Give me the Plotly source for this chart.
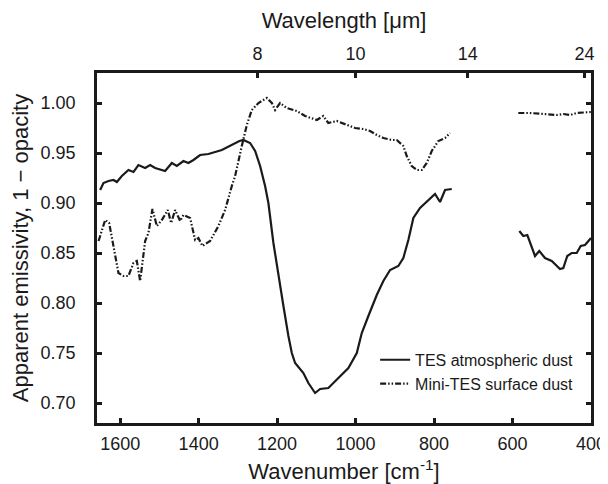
import plotly.graph_objects as go

# TES atmospheric dust (solid) - wavenumber [cm-1], emissivity
tes_wn_a = [1651, 1642.5, 1629.8, 1617, 1608.4, 1595.7, 1578.9, 1566, 1553.4, 1536.3,
            1523.6, 1510.8, 1485.4, 1468.3, 1455.6, 1438.7, 1426, 1413.2, 1396.2, 1375,
            1340.9, 1315.4, 1296, 1286, 1268.8, 1256, 1243.3, 1230.6, 1222.2, 1209.4,
            1196.7, 1183.9, 1171.2, 1162.5, 1154.1, 1133, 1120.3, 1103.2, 1090.4, 1069.3,
            1043.8, 1018.3, 996.9, 984.2, 967.4, 946, 929.2, 912.1, 891, 878.3,
            865.5, 852.7, 835.7, 814.5, 797.5, 784.7, 772, 754.9]
tes_em_a = [0.913, 0.920, 0.922, 0.923, 0.921, 0.927, 0.933, 0.931, 0.938, 0.935,
            0.938, 0.935, 0.932, 0.940, 0.937, 0.942, 0.940, 0.943, 0.948, 0.949,
            0.953, 0.958, 0.962, 0.963, 0.960, 0.952, 0.937, 0.917, 0.900, 0.860,
            0.827, 0.797, 0.767, 0.750, 0.740, 0.730, 0.720, 0.710, 0.714, 0.715,
            0.725, 0.735, 0.750, 0.770, 0.787, 0.808, 0.822, 0.833, 0.837, 0.845,
            0.863, 0.885, 0.895, 0.903, 0.909, 0.901, 0.913, 0.914]
tes_wn_b = [582.7, 572.5, 562.3, 542.7, 531.8, 517.2, 500.1, 479, 470.6, 460.4,
            449.2, 436.4, 426.2, 415.3, 404.3, 400]
tes_em_b = [0.872, 0.867, 0.868, 0.847, 0.852, 0.845, 0.842, 0.834, 0.835, 0.847,
            0.850, 0.850, 0.857, 0.858, 0.863, 0.865]

# Mini-TES surface dust (dash-dot-dot)
mini_wn_a = [1655, 1638.2, 1628, 1617.1, 1604.3, 1591.6, 1578.9, 1566.1, 1557.5, 1549,
             1536.3, 1527.9, 1517.7, 1506.5, 1493.8, 1478.5, 1470.1, 1459.9, 1447.1, 1438.7,
             1421.7, 1408.9, 1400.5, 1390.3, 1370.7, 1349.6, 1332.5, 1315.4, 1307, 1290,
             1277.2, 1264.5, 1247.6, 1226.2, 1213.5, 1205.1, 1192.4, 1175.3, 1149.8, 1128.7,
             1098.9, 1082.2, 1069.4, 1048, 1018.5, 1001.3, 980.1, 963.1, 946, 929.2,
             907.8, 895.1, 878.3, 869.6, 856.9, 844.1, 831.4, 818.6, 805.9, 789.1,
             772, 759.2]
mini_em_a = [0.862, 0.883, 0.880, 0.857, 0.830, 0.827, 0.827, 0.840, 0.842, 0.822,
             0.862, 0.870, 0.894, 0.877, 0.883, 0.893, 0.880, 0.893, 0.882, 0.888,
             0.885, 0.863, 0.865, 0.857, 0.862, 0.877, 0.893, 0.917, 0.927, 0.957,
             0.978, 0.993, 1.000, 1.005, 1.000, 0.993, 1.000, 0.995, 0.992, 0.987,
             0.983, 0.987, 0.980, 0.982, 0.978, 0.975, 0.974, 0.972, 0.968, 0.965,
             0.963, 0.963, 0.957, 0.947, 0.937, 0.933, 0.933, 0.940, 0.952, 0.962,
             0.965, 0.970]
mini_wn_b = [585.2, 555.4, 521.5, 487.4, 470.6, 453.5, 436.4, 411, 400]
mini_em_b = [0.990, 0.990, 0.989, 0.988, 0.989, 0.988, 0.990, 0.991, 0.991]

wn_ticks = [1600, 1400, 1200, 1000, 800, 600, 400]
y_ticks = [0.70, 0.75, 0.80, 0.85, 0.90, 0.95, 1.00]
wl_labels = [8, 10, 14, 24]
wl_ticks = [1e4 / w for w in wl_labels]

x_range = [1659, 400]
y_range = [0.68, 1.03]

FONT = "Liberation Sans, Arial, sans-serif"
INK = "#1a1a1a"

fig = go.Figure()
fig.add_trace(go.Scatter(
    x=tes_wn_a + [None] + tes_wn_b, y=tes_em_a + [None] + tes_em_b,
    mode="lines", name="TES atmospheric dust",
    line=dict(color=INK, width=2.2), connectgaps=False))
fig.add_trace(go.Scatter(
    x=mini_wn_a + [None] + mini_wn_b, y=mini_em_a + [None] + mini_em_b,
    mode="lines", name="Mini-TES surface dust",
    line=dict(color=INK, width=2.2, dash="6px,2px,1.5px,2px,1.5px,2px"),
    connectgaps=False))
# invisible trace carrying the top (wavelength) axis
fig.add_trace(go.Scatter(x=x_range, y=[None, None], xaxis="x2",
                         showlegend=False, hoverinfo="skip"))

# page body has an 8px default margin, so the figure is 8px smaller and offset
fig.update_layout(
    width=600, height=476,
    margin=dict(l=89, r=17, t=65, b=61),
    paper_bgcolor="white", plot_bgcolor="white",
    font=dict(family=FONT, color=INK, size=18),
    showlegend=True,
    legend=dict(x=0.563, y=0.229, xanchor="left", yanchor="top",
                bgcolor="rgba(0,0,0,0)", font=dict(size=16), tracegroupgap=0),
    xaxis=dict(range=x_range, autorange=False, tickvals=wn_ticks,
               ticks="inside", ticklen=5, tickwidth=2.5, tickcolor=INK,
               showline=True, linewidth=2.8, linecolor=INK, mirror=True,
               showgrid=False, zeroline=False, automargin=False,
               ticklabelstandoff=2,
               tickfont=dict(size=18),
               title=dict(text="Wavenumber [cm<sup>-1</sup>]", font=dict(size=22), standoff=23)),
    xaxis2=dict(range=x_range, autorange=False, overlaying="x", side="top",
                tickvals=wl_ticks, ticktext=[str(w) for w in wl_labels],
                ticks="inside", ticklen=5, tickwidth=2.5, tickcolor=INK,
                showline=False, showgrid=False, zeroline=False, automargin=False,
                ticklabelstandoff=8,
                tickfont=dict(size=18),
                title=dict(text="Wavelength [μm]", font=dict(size=22), standoff=9)),
    yaxis=dict(range=y_range, autorange=False, tickvals=y_ticks, tickformat=".2f",
               ticks="inside", ticklen=5, tickwidth=2.5, tickcolor=INK,
               showline=True, linewidth=2.8, linecolor=INK, mirror="ticks",
               showgrid=False, zeroline=False, automargin=False,
               ticklabelstandoff=15,
               tickfont=dict(size=18),
               title=dict(text="Apparent emissivity, 1 − opacity", font=dict(size=22), standoff=9)),
)

fig.write_html("out.html")
